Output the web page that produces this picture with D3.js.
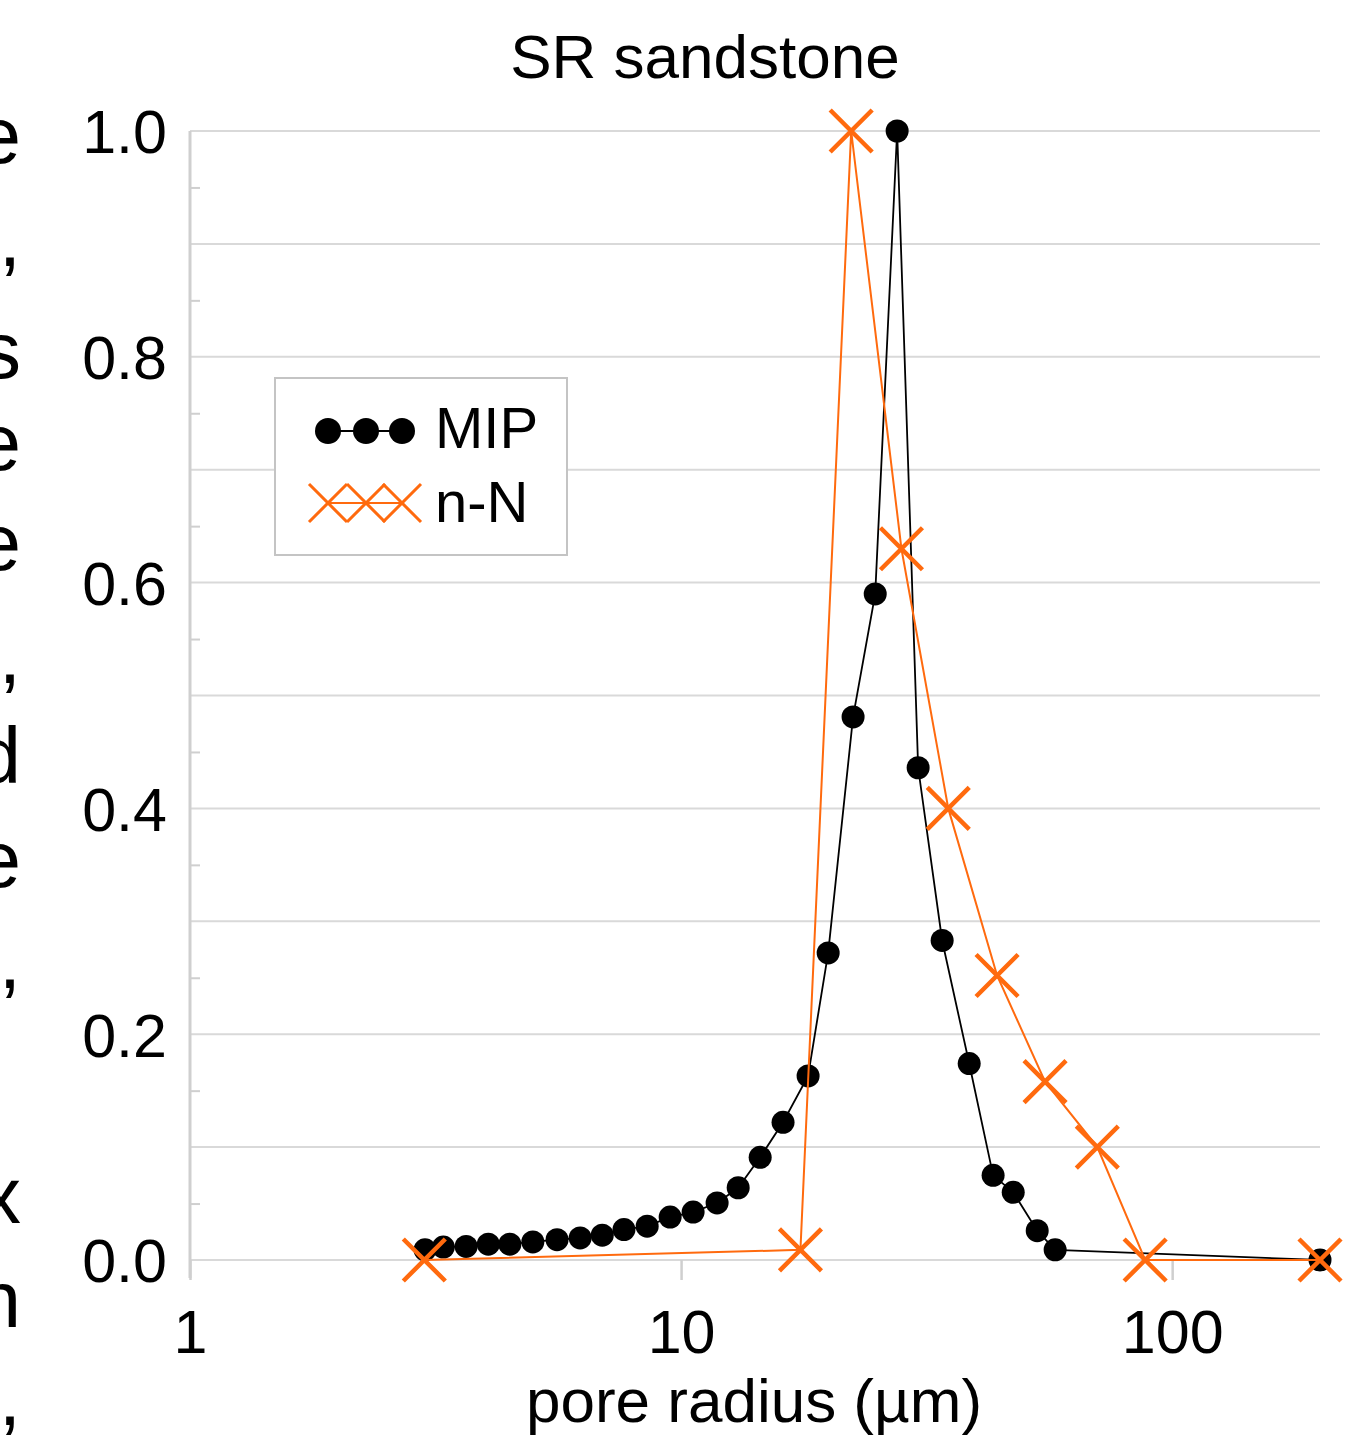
<!DOCTYPE html>
<html>
<head>
<meta charset="utf-8">
<script src="https://cdn.jsdelivr.net/npm/d3@7"></script>
<style>
  body { margin: 0; background: #fff; }
  text { font-family: "Liberation Sans", Arial, sans-serif; }
</style>
</head>
<body>
<div id="container"></div>
<script>
// pore radius (µm) and normalised distribution, MIP
const mipRadius = [3.01, 3.28, 3.65, 4.05, 4.48, 4.99, 5.59, 6.23, 6.91, 7.65, 8.53, 9.50, 10.58, 11.84, 13.07,
  14.49, 16.13, 18.14, 19.93, 22.40, 24.85, 27.54, 30.39, 34.01, 38.61, 43.19, 47.46, 53.11, 57.77, 200];
const mipValue = [0.009, 0.0115, 0.012, 0.014, 0.014, 0.016, 0.018, 0.0195, 0.022, 0.027, 0.030, 0.038, 0.0425, 0.0505, 0.064,
  0.091, 0.122, 0.163, 0.272, 0.481, 0.590, 1.0, 0.436, 0.283, 0.174, 0.075, 0.060, 0.026, 0.009, 0.0];

// n-N
const nnRadius = [3.0, 17.5, 22.2, 28.1, 35.0, 44.0, 55.1, 70.4, 88.1, 200];
const nnValue = [0.0, 0.009, 1.0, 0.630, 0.400, 0.252, 0.158, 0.100, 0.0, 0.0];

const xTicks = [1, 10, 100];
const yTicks = [0, 0.2, 0.4, 0.6, 0.8, 1.0];
const yGrid = d3.range(0, 1.01, 0.1);
const yMinor = d3.range(0.05, 1, 0.1);

// cut-off text of the neighbouring column (right ends of lines)
const sideChars = ["e", ",", "s", "e", "e", ",", "d", "e", ",", "x", "n", ","];
const sideBase = [163, 266, 378, 470, 570, 683, 783, 887, 988, 1223, 1327, 1425];

const W = 1357, H = 1439;
const margin = {top: 131, right: 37, bottom: 179, left: 190};

const svg = d3.select("#container").append("svg")
  .attr("width", W)
  .attr("height", H);

const x = d3.scaleLog()
  .domain([1, 200])
  .range([margin.left, W - margin.right]);
const y = d3.scaleLinear()
  .domain([0, 1])
  .range([H - margin.bottom, margin.top]);

const gridColor = "#d9d9d9";
const axisColor = "#cfcfcf";
const orange = "#ff6a0e";

// side text fragments
svg.append("g").selectAll("text")
  .data(sideChars)
  .join("text")
    .attr("x", 21)
    .attr("y", (d, i) => sideBase[i])
    .attr("text-anchor", "end")
    .style("font-size", "80px")
    .style("fill", "#000")
    .text(d => d);

// gridlines
svg.append("g").selectAll("line")
  .data(yGrid)
  .join("line")
    .attr("x1", margin.left).attr("x2", W - margin.right)
    .attr("y1", d => y(d)).attr("y2", d => y(d))
    .style("stroke", gridColor)
    .style("stroke-width", 2);

// minor ticks on the inside
svg.append("g")
  .attr("transform", `translate(${margin.left},0)`)
  .call(d3.axisRight(y).tickValues(yMinor).tickSize(10).tickFormat(""))
  .call(g => g.select(".domain").remove())
  .call(g => g.selectAll("line").style("stroke", axisColor).style("stroke-width", 2));

// y axis
svg.append("g")
  .attr("transform", `translate(${margin.left},0)`)
  .call(d3.axisLeft(y).tickValues(yTicks).tickFormat(d3.format(".1f")).tickSize(0).tickPadding(23))
  .call(g => g.select(".domain").remove())
  .call(g => g.selectAll("text")
    .attr("dy", "0.36em")
    .style("font-family", "'Liberation Sans', Arial, sans-serif")
    .style("font-size", "61px")
    .style("fill", "#000"));

// x axis
svg.append("g")
  .attr("transform", `translate(0,${y(0)})`)
  .call(d3.axisBottom(x).tickValues(xTicks).tickFormat(d3.format("d")).tickSize(20).tickPadding(30))
  .call(g => g.select(".domain").remove())
  .call(g => g.selectAll("line").style("stroke", axisColor).style("stroke-width", 2.5))
  .call(g => g.selectAll("text")
    .style("font-family", "'Liberation Sans', Arial, sans-serif")
    .style("font-size", "61px")
    .style("fill", "#000"));

// vertical axis line
svg.append("line")
  .attr("x1", margin.left).attr("x2", margin.left)
  .attr("y1", y(1)).attr("y2", y(0) + 18)
  .style("stroke", axisColor)
  .style("stroke-width", 3);

// MIP series
const mip = mipRadius.map((r, i) => ({r: r, v: mipValue[i]}));
const nn = nnRadius.map((r, i) => ({r: r, v: nnValue[i]}));

const line = d3.line().x(d => x(d.r)).y(d => y(d.v));

svg.append("path")
  .datum(mip)
  .attr("d", line)
  .style("fill", "none")
  .style("stroke", "#000")
  .style("stroke-width", 1.8);

svg.append("g").selectAll("circle")
  .data(mip)
  .join("circle")
    .attr("cx", d => x(d.r))
    .attr("cy", d => y(d.v))
    .attr("r", 11.5)
    .style("fill", "#000");

// n-N series
svg.append("path")
  .datum(nn)
  .attr("d", line)
  .style("fill", "none")
  .style("stroke", orange)
  .style("stroke-width", 2);

svg.append("g").selectAll("path")
  .data(nn)
  .join("path")
    .attr("transform", d => `translate(${x(d.r)},${y(d.v)})`)
    .attr("d", d3.line()([[-21, -21], [21, 21]]) + d3.line()([[-21, 21], [21, -21]]))
    .style("fill", "none")
    .style("stroke", orange)
    .style("stroke-width", 4.5);

// title
svg.append("text")
  .attr("x", 705)
  .attr("y", 78)
  .attr("text-anchor", "middle")
  .style("font-size", "62px")
  .text("SR sandstone");

// x axis title
svg.append("text")
  .attr("x", 754)
  .attr("y", 1422)
  .attr("text-anchor", "middle")
  .style("font-size", "62px")
  .text("pore radius (µm)");

// legend
const legend = svg.append("g").attr("transform", "translate(275,378)");
legend.append("rect")
  .attr("width", 292).attr("height", 177)
  .style("fill", "#fff")
  .style("stroke", "#c4c4c4")
  .style("stroke-width", 2);

const legX = [53, 91, 127];
legend.append("line")
  .attr("x1", legX[0]).attr("x2", legX[2]).attr("y1", 53).attr("y2", 53)
  .style("stroke", "#000").style("stroke-width", 2);
legend.append("g").selectAll("circle")
  .data(legX)
  .join("circle")
    .attr("cx", d => d).attr("cy", 53).attr("r", 13)
    .style("fill", "#000");
legend.append("text")
  .attr("x", 160).attr("y", 70)
  .style("font-size", "58px")
  .text("MIP");

legend.append("line")
  .attr("x1", legX[0]).attr("x2", legX[2]).attr("y1", 125).attr("y2", 125)
  .style("stroke", orange).style("stroke-width", 2);
legend.append("g").selectAll("path")
  .data(legX)
  .join("path")
    .attr("transform", d => `translate(${d},125)`)
    .attr("d", d3.line()([[-19, -19], [19, 19]]) + d3.line()([[-19, 19], [19, -19]]))
    .style("fill", "none")
    .style("stroke", orange)
    .style("stroke-width", 3);
legend.append("text")
  .attr("x", 160).attr("y", 144)
  .style("font-size", "58px")
  .text("n-N");
</script>
</body>
</html>
